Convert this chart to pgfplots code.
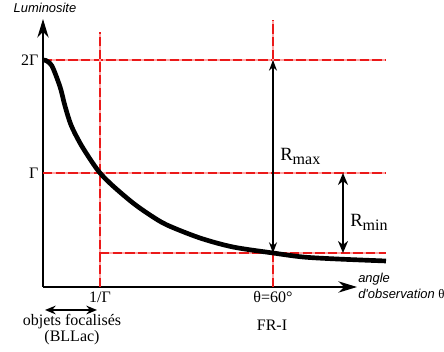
\documentclass[border=0pt]{standalone}
\usepackage{fontspec}
\setmainfont{Liberation Serif}
\newfontfamily\arial{Liberation Sans}
\usepackage{pgfplots}
\pgfplotsset{compat=1.18}
\usetikzlibrary{arrows.meta}
\definecolor{dred}{RGB}{235,25,25}

\tikzset{
  rdash/.style={draw=dred, line width=1pt, dash pattern=on 7pt off 2.5pt,
    preaction={draw=red!35, solid, line width=1pt}},
}

\begin{document}
\begin{tikzpicture}
\begin{axis}[
  x=0.75pt, y=0.75pt,
  xmin=0, xmax=314, ymin=0, ymax=268,
  axis lines=left,
  axis line style={line width=1pt, -{Stealth[length=14pt,width=8.5pt,inset=4.5pt]}},
  xtick={57,230}, xticklabels={1/Γ, θ=60°},
  ytick={114,227}, yticklabels={Γ, 2Γ},
  major tick length=0pt,
  tick label style={font=\fontsize{12}{14}\selectfont},
  clip=false,
]
% reference lines
\addplot[rdash] coordinates {(0,227) (343,227)};
\addplot[rdash] coordinates {(0,114) (343,114)};
\addplot[rdash] coordinates {(57,34) (343,34)};
\addplot[rdash] coordinates {(57,0) (57,255)};
\addplot[rdash] coordinates {(230,0) (230,267)};

% luminosity curve
\addplot[black, line width=3.5pt, smooth, tension=0.5] coordinates {
  (0,227) (3,226.5) (6,224.5) (9,221) (12,214) (15,206) (18,197) (22,181)
  (28,162) (37,144) (47,128) (57,114) (70,101) (90,84) (107,72) (124,62)
  (157,49) (190,40) (230,34) (260,30) (294,28) (343,26)
};

% R_max, R_min, objets focalises
\addplot[black, line width=1.1pt, {Stealth[length=8pt,width=6pt]}-{Stealth[length=8pt,width=6pt]}]
  coordinates {(230,227) (230,34)};
\addplot[black, line width=2.2pt, {Stealth[length=9pt,width=7.5pt]}-{Stealth[length=9pt,width=7.5pt]}]
  coordinates {(300,114) (300,34)};
\addplot[black, line width=2.2pt, {Stealth[length=8pt,width=6.5pt]}-{Stealth[length=8pt,width=6.5pt]}]
  coordinates {(2,-23) (54,-23)};

\node at (axis cs:2,279) {\arial\itshape\fontsize{9.7}{11}\selectfont Luminosite};
\node[anchor=west, inner sep=0pt] at (axis cs:237,131)
  {\fontsize{14}{16}\selectfont R\raisebox{-3pt}{\fontsize{12}{14}\selectfont max}};
\node[anchor=west, inner sep=0pt] at (axis cs:307,65)
  {\fontsize{14}{16}\selectfont R\raisebox{-3pt}{\fontsize{12}{14}\selectfont min}};
\node[anchor=west, align=left, inner sep=0pt] at (axis cs:315,1.5)
  {\arial\itshape\fontsize{9.7}{15}\selectfont angle\\\arial\itshape\fontsize{9.7}{15}\selectfont d'observation {\upshape\rmfamily θ}};
\node at (axis cs:229,-38) {\fontsize{12}{14}\selectfont FR-I};
\node[align=center] at (axis cs:29,-42.5)
  {\fontsize{12}{14}\selectfont objets focalisés\\\fontsize{12}{14}\selectfont (BLLac)};

\coordinate (bl) at (axis cs:-43,-65);
\coordinate (tr) at (axis cs:401,287);
\end{axis}
\pgfresetboundingbox
\useasboundingbox (bl) rectangle (tr);
\end{tikzpicture}
\end{document}
